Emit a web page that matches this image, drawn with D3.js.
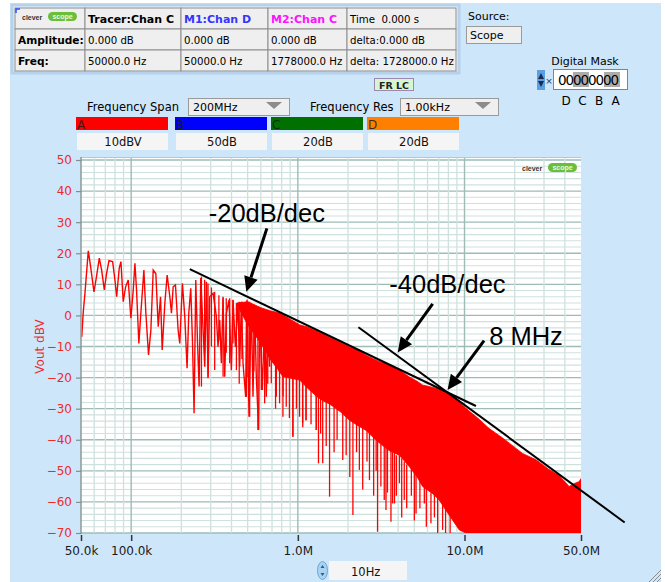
<!DOCTYPE html>
<html>
<head>
<meta charset="utf-8">
<script src="https://cdn.jsdelivr.net/npm/d3@7"></script>
<style>
  html, body { margin: 0; padding: 0; background: #ffffff; }
  svg { display: block; font-family: "DejaVu Sans", Verdana, sans-serif; }
</style>
</head>
<body>
<svg id="chart" width="665" height="582"></svg>
<script>
// ---------------- DATA ----------------
// Low-frequency part of the red spectrum trace (kHz, dBV)
const traceKHz = [50.5, 51.6, 52.8, 55.3, 57.1, 59.8, 61.5, 64.4, 66.5, 69.0, 71.2, 73.6, 77.4, 79.9, 81.8, 84.8, 86.8, 89.6, 92.6, 96.0,
  99.6, 102.9, 105.3, 107.7, 111.2, 114.3, 119.2, 122.5, 127.1, 131.3, 135.6, 140.6, 145.3, 150.0, 153.5, 159.2, 164.4, 170.6, 174.5, 178.6,
  184.4, 191.3, 195.7, 203, 209.7, 216.5, 221.6, 227.8, 233.1, 238.5, 244.1, 249.8, 255.6, 261.5, 270.1, 276.4, 282.8, 289.4, 296.1, 310,
  324.6, 332, 339.8, 347.7, 355.8, 364.1, 372.6, 386.5, 399.2, 408.5, 421.9, 437.6, 447.8, 458.2, 468.9, 486.4, 495.4, 509.3, 526, 538.2,
  550.7, 563.5, 581.9, 590, 612, 632, 646.8, 662, 677];
const traceDb = [-6.9, 1.2, 7.1, 20.8, 15.7, 7.6, 11.4, 18.4, 14.6, 8.2, 13.5, 17.6, 17.3, 11.4, 6.0, 15.2, 17.3, 4.4, 9.2, 11.4,
  -0.9, 8.2, 16.8, 8.2, -9.0, 0.7, 14.6, 0.7, -12.7, -4.7, 14.6, 13.5, -3.6, 6.0, -11.1, 3.9, 13.0, 6.0, 0.7, 9.2,
  9.8, -4.7, -9.0, 10.3, -0.4, -17.0, 0.7, 8.7, -7.9, -31.5, 11.4, -7.9, -22.9, 12.0, -4.7, -16.5, 10.8, -19.7, 6.0, 7.1,
  -0.4, -10.1, -1.5, -15.4, 6.0, -19.7, 0.7, 5.0, -17.6, 5.0, -10.1, 3.9, -16.5, 4.4, -15.4, -26.2, 5.0, -32.6, 3.9, -26.2,
  1.7, -19.7, -36.9, 0.7, -24.0, -0.4, -26.2, 1.7, -16.5];

// Dense high-frequency part: upper and lower edge of the solid band (kHz, dBV)
const envKHz    = [430, 500, 600, 680, 750, 814, 900, 1024, 1150, 1290, 1420, 1550, 1800, 2040, 2300, 2570, 2800, 3080, 3540, 4070, 4670, 5200, 5600, 6500, 7050, 7800, 9300, 10200, 12000, 14000, 17000, 22300, 27000, 32000, 37000, 42400, 46000, 48600, 50000];
const envTop    = [4.0, 4.4, 2.5, 1.5, 1.0, 0.2, -1.2, -3.0, -3.8, -5.0, -6.0, -7.0, -8.6, -10.2, -11.2, -12.8, -13.8, -14.8, -15.8, -17.6, -19.8, -21.2, -22.4, -23.2, -23.8, -24.6, -27.8, -29.9, -33.0, -36.3, -39.5, -44.4, -46.5, -49.5, -51.5, -55.0, -54.0, -53.5, -52.5];
const envBottom = [3.5, -3, -9, -14, -17, -19.7, -20.2, -20.8, -23.5, -26, -27.5, -28.5, -31, -33.7, -35.5, -37, -39, -41, -43.5, -45, -48.7, -52, -55, -57.5, -59.4, -63, -69, -70, -70, -70, -70, -70, -70, -70, -70, -70, -70, -70, -70];

// Individual vertical lines of the spectrum (kHz, top dBV, bottom dBV)
const spikeKHz = [264, 276, 289, 303, 317, 336, 356, 372, 390, 408, 428, 445, 462, 491, 502, 514, 545, 576, 604, 632,
  660, 693, 735, 777, 815, 852, 890, 934, 980, 1024, 1070, 1120, 1200, 1290,
  743, 814, 934, 1068, 1120, 1290, 1330, 1410, 1550, 1860, 2140, 2340, 2690, 3010, 3300, 3380, 3620, 3700, 3800, 4070, 4350, 5120, 5740, 6290, 7390,
  1370, 1480, 1650, 1720, 1950, 2050, 2250, 2450, 2600, 2850, 2950, 3150, 3450, 3900, 4200, 4500, 4800, 5000, 5400, 5900, 6600, 6900, 7700, 8200];
const spikeHi  = [12.5, 11.5, 10.3, 9, 7.6, 6.5, 5.5, 5.5, 5.5, 5.0, 3.9, 4.4, 4.4, 4.4, 4.4, 4.4, 3.5, 2.8, 1.5, 0.7,
  0.5, 0.1, 0.8, 0.7, -0.5, -1.5, -2, -2.5, -2.8, -3.1, -3.3, -3.6, -4.2, -4.7,
  -15, -19, -20, -21, -22, -25, -26, -27, -28, -31, -34, -35, -38, -40, -42, -42, -43, -44, -44, -45, -47, -50, -55, -57, -60,
  -26, -27, -29, -30, -32, -33, -35, -36, -37, -39, -40, -41, -43, -45, -46, -48, -49, -50, -53, -55, -57, -58, -61, -63];
const spikeLo  = [-22.9, -12, -20.2, -10, -17.6, -8, -19.7, -12, -15.4, -9, -17.6, -22, -14, -26.2, -20, -32.6, -18, -36.9, -24, -28.3,
  -22, -21.8, -30, -28.3, -26, -29.4, -33, -39, -30, -32.6, -36, -33.7, -35, -36.9,
  -26.2, -32.6, -39, -34.7, -33.7, -36.9, -47.6, -47.6, -58.3, -46.5, -64.2, -49.7, -53, -69.6, -59.4, -62.6, -66.4, -60.5, -60.5, -54, -59.4, -63.7, -60.5, -66.9, -69,
  -38, -42, -44, -40, -45, -52, -44, -56, -47, -58, -50, -55, -57, -58, -65, -62, -58, -66, -62, -68, -65, -70, -70, -70];

// Axis ticks
const yTicks = [-70, -60, -50, -40, -30, -20, -10, 0, 10, 20, 30, 40, 50];
const xTickHz = [50e3, 100e3, 1e6, 10e6, 50e6];
const xTickLabels = ["50.0k", "100.0k", "1.0M", "10.0M", "50.0M"];

// Hand-drawn slope annotations (Hz, dBV)
const slopeLines = [
  {f1: 224.8e3, d1: 14.9, f2: 11.71e6, d2: -29.15},
  {f1: 2.31e6,  d1: -3.8, f2: 91.4e6,  d2: -66.6}
];
const arrowFromHz = [652e3, 6.44e6, 13.1e6];
const arrowFromDb = [28.0, 3.7, -8.1];
const arrowToHz   = [491e3, 3.97e6, 7.91e6];
const arrowToDb   = [7.6, -11.9, -24.0];
const noteText = ["-20dB/dec", "-40dB/dec", "8 MHz"];
const noteHz   = [292e3, 3.54e6, 14.06e6];
const noteDb   = [30.15, 7.1, -9.5];

// Readout table text
const tableRows = [
  ["", "Tracer:Chan C", "M1:Chan D", "M2:Chan C", "Time\u00a0 0.000 s"],
  ["Amplitude:", "0.000 dB", "0.000 dB", "0.000 dB", "delta:0.000 dB"],
  ["Freq:", "50000.0 Hz", "50000.0 Hz", "1778000.0 Hz", "delta: 1728000.0 Hz"]
];
const channelNames  = ["A", "B", "C", "D"];
const channelScales = ["10dBV", "50dB", "20dB", "20dB"];
const channelColors = ["#ff0000", "#0000ff", "#007000", "#ff8000"];

// ---------------- DRAW ----------------
const svg = d3.select("#chart");
const FONT = "'DejaVu Sans', Verdana, sans-serif";

svg.append("rect").attr("x", 10).attr("y", 3).attr("width", 651).attr("height", 579).attr("fill", "#cde6fa");

function logo(g, x, y) {
  const lg = g.append("g").attr("transform", `translate(${x},${y})`);
  lg.append("text").attr("x", 0).attr("y", 6.5).attr("font-size", 7).attr("font-weight", "bold")
    .attr("font-family", "'Liberation Sans', Arial, sans-serif").attr("fill", "#333").text("clever");
  lg.append("rect").attr("x", 26).attr("y", -1).attr("width", 29).attr("height", 9).attr("rx", 4.5).attr("fill", "#6abf3a");
  lg.append("text").attr("x", 40.5).attr("y", 6.3).attr("text-anchor", "middle").attr("font-size", 7).attr("font-weight", "bold")
    .attr("font-family", "'Liberation Sans', Arial, sans-serif").attr("fill", "#e8f8e0").text("scope");
}

// --- readout table
const tg = svg.append("g");
tg.append("rect").attr("x", 12).attr("y", 5).attr("width", 447).attr("height", 68)
  .attr("fill", "#e6f0f8").attr("stroke", "#b6d2ea").attr("stroke-width", 3);
const colX = [15, 85, 181, 268, 347, 456];
const rowY = [8, 29, 50, 71];
const colColors = ["#000", "#000", "#3535ff", "#ff10ff", "#000"];
for (let r = 0; r < 3; r++) {
  for (let c = 0; c < 5; c++) {
    tg.append("rect").attr("x", colX[c]).attr("y", rowY[r]).attr("width", colX[c + 1] - colX[c]).attr("height", rowY[r + 1] - rowY[r])
      .attr("fill", "#efefef").attr("stroke", "#8e8e8e").attr("stroke-width", 1);
    const t = tableRows[r][c];
    if (!t) continue;
    const bold = (r === 0 && c > 0 && c < 4) || c === 0;
    tg.append("text").attr("x", colX[c] + 3).attr("y", rowY[r] + 15)
      .attr("font-size", c === 0 ? 10.6 : (bold ? 11 : 10.2)).attr("font-weight", bold ? "bold" : "normal")
      .attr("fill", r === 0 ? colColors[c] : "#000").text(t);
  }
}
tg.append("path").attr("d", "M16,13 V9 H20").attr("stroke", "#2a4cff").attr("stroke-width", 1.5).attr("fill", "none");
logo(tg, 22, 13);

// --- Source / Digital mask
svg.append("text").attr("x", 468).attr("y", 20).attr("font-size", 11).attr("fill", "#000").text("Source:");
svg.append("rect").attr("x", 466.5).attr("y", 26.5).attr("width", 55).attr("height", 17).attr("fill", "#efefef").attr("stroke", "#9a9a9a");
svg.append("text").attr("x", 470).attr("y", 39).attr("font-size", 11).attr("fill", "#000").text("Scope");
svg.append("text").attr("x", 585).attr("y", 65).attr("text-anchor", "middle").attr("font-size", 11).attr("fill", "#000").text("Digital Mask");
svg.append("rect").attr("x", 537).attr("y", 70).attr("width", 8).attr("height", 20).attr("fill", "#5a9fe0");
svg.append("path").attr("d", "M538,79 L541,73 L544,79 Z M538,81 L541,87 L544,81 Z").attr("fill", "#1a2a50");
svg.append("text").attr("x", 549).attr("y", 84).attr("text-anchor", "middle").attr("font-size", 9).attr("fill", "#333").text("×");
svg.append("rect").attr("x", 553.5).attr("y", 69.5).attr("width", 74).attr("height", 20).attr("fill", "#ffffff").attr("stroke", "#4f8fd0");
svg.append("rect").attr("x", 573).attr("y", 72).attr("width", 16).attr("height", 15).attr("fill", "#ababab");
svg.append("rect").attr("x", 604).attr("y", 72).attr("width", 16).attr("height", 15).attr("fill", "#ababab");
svg.append("text").attr("x", 558).attr("y", 85).attr("font-size", 13.5).attr("fill", "#000").attr("textLength", 61).text("00000000");
["D", "C", "B", "A"].forEach((t, i) => {
  svg.append("text").attr("x", 566 + i * 16.5).attr("y", 105).attr("text-anchor", "middle").attr("font-size", 12).attr("fill", "#000").text(t);
});

// --- FR LC button
svg.append("rect").attr("x", 374.5).attr("y", 78.5).attr("width", 39).attr("height", 12).attr("fill", "#d6f5d0").attr("stroke", "#9a88b0");
svg.append("text").attr("x", 394).attr("y", 88.5).attr("text-anchor", "middle").attr("font-size", 9.5).attr("font-weight", "bold").attr("fill", "#222").text("FR LC");

// --- Frequency span / res
function dropdown(x, w, label) {
  svg.append("rect").attr("x", x + 0.5).attr("y", 98.5).attr("width", w).attr("height", 17).attr("fill", "#efefef").attr("stroke", "#9a9a9a");
  svg.append("text").attr("x", x + 5).attr("y", 111).attr("font-size", 11).attr("fill", "#000").text(label);
  svg.append("path").attr("d", `M${x + w - 23},102 L${x + w - 7},102 L${x + w - 15},109 Z`).attr("fill", "#8c8c8c");
}
svg.append("text").attr("x", 87).attr("y", 111).attr("font-size", 11.5).attr("fill", "#000").text("Frequency Span");
dropdown(188, 101, "200MHz");
svg.append("text").attr("x", 310).attr("y", 111).attr("font-size", 11.5).attr("fill", "#000").text("Frequency Res");
dropdown(400, 98, "1.00kHz");

// --- channel bars
const chX = [76, 175, 271, 367];
channelNames.forEach((n, i) => {
  svg.append("rect").attr("x", chX[i]).attr("y", 117).attr("width", 92).attr("height", 13).attr("fill", channelColors[i]);
  svg.append("text").attr("x", chX[i] + 1).attr("y", 128.5).attr("font-size", 12).attr("fill", "#1a1a1a").attr("fill-opacity", 0.85).text(n);
  svg.append("rect").attr("x", chX[i] + 1).attr("y", 133).attr("width", 91).attr("height", 17).attr("fill", "#f5f5f5");
  svg.append("text").attr("x", chX[i] + 47).attr("y", 146).attr("text-anchor", "middle").attr("font-size", 11.5).attr("fill", "#111").text(channelScales[i]);
});

// --- plot
const L = 81, R = 581, T = 160, B = 533;
const x = d3.scaleLog().domain([50e3, 50e6]).range([L, R]);
const y = d3.scaleLinear().domain([-70, 50]).range([B, T]);

svg.append("rect").attr("x", L).attr("y", T - 3).attr("width", R - L).attr("height", B - T + 3).attr("fill", "#ffffff");
svg.append("line").attr("x1", L).attr("x2", R).attr("y1", T - 2.5).attr("y2", T - 2.5).attr("stroke", "#b8c8c8");

const grid = svg.append("g");
d3.range(-70, 51, 2).forEach(v => {
  const major = v % 10 === 0;
  grid.append("line").attr("x1", L).attr("x2", R).attr("y1", y(v)).attr("y2", y(v))
    .attr("stroke", major ? "#9dbcb6" : "#cfe1dd").attr("stroke-width", major ? 1.3 : 1.1);
});
const vf = [];
[1e4, 1e5, 1e6, 1e7].forEach(dec => { for (let m = 1; m <= 9; m++) { const f = m * dec; if (f > 50e3 && f < 50e6) vf.push([f, m === 1]); } });
vf.forEach(([f, major]) => {
  grid.append("line").attr("x1", x(f)).attr("x2", x(f)).attr("y1", T - 2).attr("y2", B)
    .attr("stroke", major ? "#9dbcb6" : "#cfe1dd").attr("stroke-width", major ? 1.4 : 1.3);
});

logo(svg, 522, 164);

svg.append("clipPath").attr("id", "plotclip").append("rect").attr("x", L).attr("y", T - 3).attr("width", R - L).attr("height", B - T + 3);
const pg = svg.append("g").attr("clip-path", "url(#plotclip)");

const envData = envKHz.map((f, i) => ({f: f * 1e3, top: envTop[i], bot: envBottom[i]}));
pg.append("path").datum(envData)
  .attr("d", d3.area().x(d => x(d.f)).y0(d => y(d.bot)).y1(d => y(d.top)))
  .attr("fill", "#ff0000").attr("stroke", "#ff0000").attr("stroke-width", 0.8);

spikeKHz.forEach((f, i) => {
  pg.append("line").attr("x1", x(f * 1e3)).attr("x2", x(f * 1e3)).attr("y1", y(spikeHi[i])).attr("y2", y(spikeLo[i]))
    .attr("stroke", "#ff0000").attr("stroke-width", 1.3);
});

const traceData = traceKHz.map((f, i) => [f * 1e3, traceDb[i]]);
pg.append("path").datum(traceData)
  .attr("d", d3.line().x(d => x(d[0])).y(d => y(d[1])))
  .attr("fill", "none").attr("stroke", "#ff0000").attr("stroke-width", 1.4);

// y axis
const yAxis = svg.append("g").attr("transform", `translate(${L},0)`)
  .call(d3.axisLeft(y).tickValues(yTicks).tickSize(5).tickSizeOuter(0).tickPadding(4));
yAxis.select(".domain").attr("stroke", "#8a9a9a").attr("stroke-width", 1.5).attr("d", `M0,${T - 3}V${B + 1}`);
yAxis.selectAll(".tick line").attr("stroke", "#7f8f8f").attr("stroke-width", 1.2);
yAxis.selectAll(".tick text").attr("fill", "#ee2b2b").attr("font-size", 12).attr("font-family", FONT);

svg.append("text").attr("transform", `translate(44,${(T + B) / 2}) rotate(-90)`).attr("text-anchor", "middle")
  .attr("font-size", 12).attr("fill", "#ee2b2b").text("Vout dBV");

// x axis
const xAxis = svg.append("g").attr("transform", `translate(0,${B + 2})`)
  .call(d3.axisBottom(x).tickValues(xTickHz).tickFormat((d, i) => xTickLabels[i]).tickSize(6).tickSizeOuter(0).tickPadding(5));
xAxis.select(".domain").remove();
xAxis.selectAll(".tick line").attr("stroke", "#333").attr("stroke-width", 1.5);
xAxis.selectAll(".tick text").attr("fill", "#1a1a1a").attr("font-size", 12).attr("font-family", FONT);

// annotations
const ag = svg.append("g");
slopeLines.forEach(s => {
  ag.append("line").attr("x1", x(s.f1)).attr("y1", y(s.d1)).attr("x2", x(s.f2)).attr("y2", y(s.d2))
    .attr("stroke", "#000").attr("stroke-width", 2);
});
arrowFromHz.forEach((f, i) => {
  const x1 = x(f), y1 = y(arrowFromDb[i]), x2 = x(arrowToHz[i]), y2 = y(arrowToDb[i]);
  const ang = Math.atan2(y2 - y1, x2 - x1);
  const hl = 15, hw = 7;
  const bx = x2 - hl * Math.cos(ang), by = y2 - hl * Math.sin(ang);
  ag.append("line").attr("x1", x1).attr("y1", y1).attr("x2", bx).attr("y2", by).attr("stroke", "#000").attr("stroke-width", 3);
  const px = -Math.sin(ang) * hw, py = Math.cos(ang) * hw;
  ag.append("path").attr("d", `M${x2},${y2} L${bx + px},${by + py} L${bx - px},${by - py} Z`).attr("fill", "#000");
});
noteText.forEach((t, i) => {
  ag.append("text").attr("x", x(noteHz[i])).attr("y", y(noteDb[i])).attr("font-size", 25.5)
    .attr("font-family", "'Liberation Sans', Arial, sans-serif").attr("fill", "#000").text(t);
});

// --- bottom 10Hz control
const sp = svg.append("g");
sp.append("ellipse").attr("cx", 322.5).attr("cy", 570.5).attr("rx", 5).attr("ry", 9).attr("fill", "#a9d3f2").attr("stroke", "#6fa8d6");
sp.append("path").attr("d", "M320.5,568 L322.5,565 L324.5,568 Z M320.5,573 L322.5,576 L324.5,573 Z").attr("fill", "#3a5a80");
sp.append("rect").attr("x", 329).attr("y", 561).attr("width", 78).attr("height", 19).attr("fill", "#f5f5f5");
sp.append("text").attr("x", 351).attr("y", 575.5).attr("font-size", 11.5).attr("fill", "#111").text("10Hz");

// resize grip
[0, 4, 8, 12].forEach(o => {
  svg.append("line").attr("x1", 661 - o).attr("y1", 582).attr("x2", 661).attr("y2", 582 - o).attr("stroke", "#8a8a8a").attr("stroke-width", 1);
});
</script>
</body>
</html>
